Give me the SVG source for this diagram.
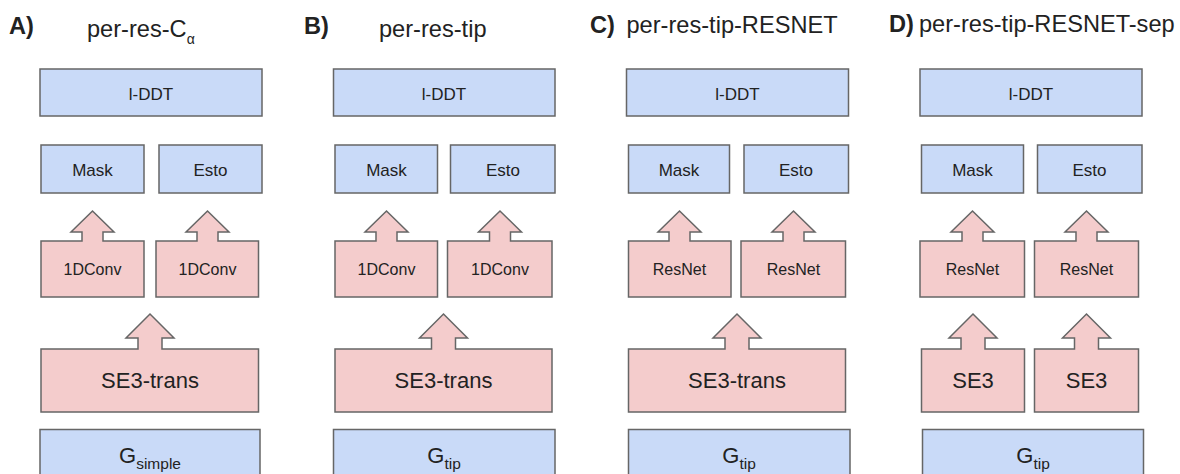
<svg xmlns="http://www.w3.org/2000/svg" width="1180" height="474" viewBox="0 0 1180 474">
  <style>
    text { font-family: "Liberation Sans", Arial, sans-serif; fill: #222; }
    .title { font-size: 23.6px; }
    .tag { font-size: 23.6px; font-weight: bold; }
    .blue { fill: #c9daf8; stroke: #666; stroke-width: 1.5; }
    .pink { fill: #f4cccc; stroke: #666; stroke-width: 1.5; stroke-linejoin: miter; }
    .lbl { font-size: 17px; text-anchor: middle; }
    .sm { font-size: 16px; text-anchor: middle; }
    .big { font-size: 22px; text-anchor: middle; }
    .sub { font-size: 15.5px; }
  </style>

  <!-- Panel titles -->
  <g id="titles">
    <text class="tag" x="9" y="33.5">A)</text>
    <text class="title" x="87" y="37">per-res-C<tspan font-size="14" dy="7">α</tspan></text>
    <text class="tag" x="304" y="34">B)</text>
    <text class="title" x="379" y="36.5">per-res-tip</text>
    <text class="tag" x="590" y="32.5">C)</text>
    <text class="title" x="626.5" y="32.5">per-res-tip-RESNET</text>
    <text class="tag" x="889" y="32">D)</text>
    <text class="title" x="919" y="32">per-res-tip-RESNET-sep</text>
  </g>

  <!-- Panel A: per-res-C-alpha -->
  <g id="a-lddt"><rect class="blue" x="40" y="69" width="222" height="47"/><text class="lbl" x="151" y="100">l-DDT</text></g>
  <g id="a-mask"><rect class="blue" x="41" y="145" width="103" height="48"/><text class="lbl" x="92.5" y="175.5">Mask</text></g>
  <g id="a-esto"><rect class="blue" x="159" y="145" width="103" height="48"/><text class="lbl" x="210.5" y="175.5">Esto</text></g>
  <g id="a-conv1"><polygon class="pink" points="41,297 41,241 82,241 82,232 71,232 92.5,211 114,232 103,232 103,241 144,241 144,297"/><text class="sm" x="92.5" y="275">1DConv</text></g>
  <g id="a-conv2"><polygon class="pink" points="156,297 156,241 197,241 197,232 186,232 207.5,211 229,232 218,232 218,241 258.5,241 258.5,297"/><text class="sm" x="207.5" y="275">1DConv</text></g>
  <g id="a-se3"><polygon class="pink" points="41,412 41,349 138,349 138,338 126,338 150,314 174,338 162,338 162,349 258.5,349 258.5,412"/><text class="big" x="150" y="388">SE3-trans</text></g>
  <g id="a-graph"><rect class="blue" x="40" y="429.5" width="220" height="60"/><text class="big" x="150" y="462.5">G<tspan class="sub" dy="6.5">simple</tspan></text></g>

  <!-- Panel B: per-res-tip -->
  <g id="b-lddt"><rect class="blue" x="333.5" y="69" width="221.5" height="47"/><text class="lbl" x="444" y="100">l-DDT</text></g>
  <g id="b-mask"><rect class="blue" x="335" y="145" width="102.5" height="48"/><text class="lbl" x="386.5" y="175.5">Mask</text></g>
  <g id="b-esto"><rect class="blue" x="450.5" y="145" width="104.5" height="48"/><text class="lbl" x="503" y="175.5">Esto</text></g>
  <g id="b-conv1"><polygon class="pink" points="335,297 335,241 376,241 376,232 365,232 386.5,211 408,232 397,232 397,241 437.5,241 437.5,297"/><text class="sm" x="386.5" y="275">1DConv</text></g>
  <g id="b-conv2"><polygon class="pink" points="447.5,297 447.5,241 489.5,241 489.5,232 478.5,232 500,211 521.5,232 510.5,232 510.5,241 552,241 552,297"/><text class="sm" x="500" y="275">1DConv</text></g>
  <g id="b-se3"><polygon class="pink" points="335,412 335,349 431.5,349 431.5,338 419.5,338 443.5,314 467.5,338 455.5,338 455.5,349 552,349 552,412"/><text class="big" x="443.5" y="388">SE3-trans</text></g>
  <g id="b-graph"><rect class="blue" x="333.5" y="429.5" width="221.5" height="60"/><text class="big" x="444" y="462.5">G<tspan class="sub" dy="6.5">tip</tspan></text></g>

  <!-- Panel C: per-res-tip-RESNET -->
  <g id="c-lddt"><rect class="blue" x="626.5" y="69" width="222" height="47"/><text class="lbl" x="737.5" y="100">l-DDT</text></g>
  <g id="c-mask"><rect class="blue" x="628.5" y="145" width="101" height="48"/><text class="lbl" x="679" y="175.5">Mask</text></g>
  <g id="c-esto"><rect class="blue" x="744" y="145" width="104.5" height="48"/><text class="lbl" x="796" y="175.5">Esto</text></g>
  <g id="c-res1"><polygon class="pink" points="628.5,297 628.5,241 669,241 669,232 658,232 679.5,211 701,232 690,232 690,241 731,241 731,297"/><text class="sm" x="679.5" y="275">ResNet</text></g>
  <g id="c-res2"><polygon class="pink" points="741,297 741,241 783,241 783,232 772,232 793.5,211 815,232 804,232 804,241 845.5,241 845.5,297"/><text class="sm" x="793.5" y="275">ResNet</text></g>
  <g id="c-se3"><polygon class="pink" points="628.5,412 628.5,349 725,349 725,338 713,338 737,314 761,338 749,338 749,349 845.5,349 845.5,412"/><text class="big" x="737" y="388">SE3-trans</text></g>
  <g id="c-graph"><rect class="blue" x="628.5" y="429.5" width="221.5" height="60"/><text class="big" x="739" y="462.5">G<tspan class="sub" dy="6.5">tip</tspan></text></g>

  <!-- Panel D: per-res-tip-RESNET-sep -->
  <g id="d-lddt"><rect class="blue" x="920" y="69" width="222" height="47"/><text class="lbl" x="1031" y="100">l-DDT</text></g>
  <g id="d-mask"><rect class="blue" x="921.5" y="145" width="102" height="48"/><text class="lbl" x="972.5" y="175.5">Mask</text></g>
  <g id="d-esto"><rect class="blue" x="1037.5" y="145" width="104.5" height="48"/><text class="lbl" x="1089.5" y="175.5">Esto</text></g>
  <g id="d-res1"><polygon class="pink" points="920,297 920,241 962,241 962,232 951,232 972.5,211 994,232 983,232 983,241 1024.5,241 1024.5,297"/><text class="sm" x="972.5" y="275">ResNet</text></g>
  <g id="d-res2"><polygon class="pink" points="1034.5,297 1034.5,241 1076,241 1076,232 1065,232 1086.5,211 1108,232 1097,232 1097,241 1138.5,241 1138.5,297"/><text class="sm" x="1086.5" y="275">ResNet</text></g>
  <g id="d-se3a"><polygon class="pink" points="921.5,412 921.5,349 961,349 961,338 949,338 973,314 997,338 985,338 985,349 1024.5,349 1024.5,412"/><text class="big" x="973" y="388">SE3</text></g>
  <g id="d-se3b"><polygon class="pink" points="1034.5,412 1034.5,349 1074.5,349 1074.5,338 1062.5,338 1086.5,314 1110.5,338 1098.5,338 1098.5,349 1138.5,349 1138.5,412"/><text class="big" x="1086.5" y="388">SE3</text></g>
  <g id="d-graph"><rect class="blue" x="922.5" y="429.5" width="221" height="60"/><text class="big" x="1033" y="462.5">G<tspan class="sub" dy="6.5">tip</tspan></text></g>
</svg>
